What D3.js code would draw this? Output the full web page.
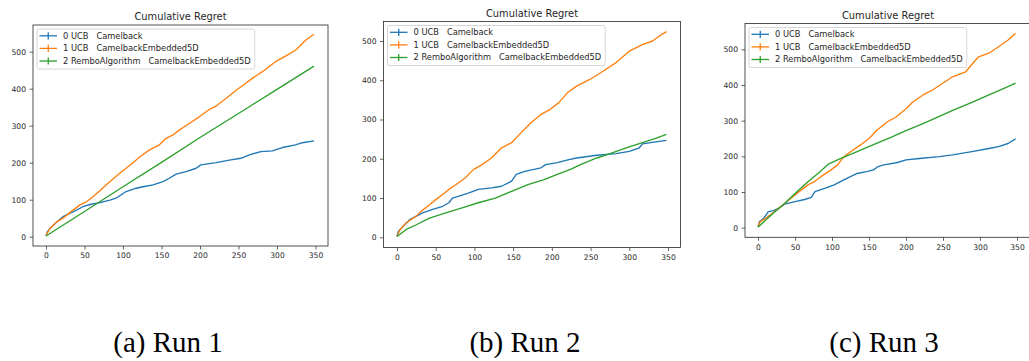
<!DOCTYPE html>
<html>
<head>
<meta charset="utf-8">
<script src="https://cdn.jsdelivr.net/npm/d3@7"></script>
<style>
  body { margin: 0; background: #fff; }
  svg { display: block; }
  .tick text { font-family: "DejaVu Sans", sans-serif; fill: #262626; }
</style>
</head>
<body>
<div id="wrapper"></div>
<script>
// ---- data ----
const seriesNames = [
  '0 UCB   Camelback',
  '1 UCB   CamelbackEmbedded5D',
  '2 RemboAlgorithm   CamelbackEmbedded5D',
];
const seriesColors = ['#1f77b4', '#ff7f0e', '#2ca02c'];
const chartTitle = 'Cumulative Regret';
const captions = ['(a) Run 1', '(b) Run 2', '(c) Run 3'];
const xTicks = [0, 50, 100, 150, 200, 250, 300, 350];
const yTicks = [0, 100, 200, 300, 400, 500];

// run 1
const run1Camelback = [[0,2],[1.7,13],[5,22],[14,40],[22,54],[35,67],[48,81],[57,87],[70,92],[83,99],[91,104],[104,122],[117,131],[126,135],[139,140],[152,149],[160,158],[169,169],[182,176],[195,185],[201,194],[221,200],[238,207],[253,212],[264,221],[279,230],[294,232],[307,241],[324,248],[333,254],[348,259]];
const run1Embedded = [[0,4],[5,22],[14,40],[22,50],[31,65],[44,86],[53,95],[61,108],[70,124],[78,140],[93,167],[104,185],[113,200],[122,216],[134,234],[147,248],[156,266],[165,275],[173,288],[186,306],[199,324],[212,344],[221,353],[234,374],[247,396],[259,414],[268,428],[281,446],[298,473],[311,488],[324,504],[331,518],[337,531],[348,547]];
const run1Rembo = [[0,2],[50,68],[100,135],[150,201],[200,268],[250,333],[300,398],[348,461]];

// run 2
const run2Camelback = [[0,2],[1.7,15],[8,28],[16.5,45],[25,54],[33,62],[46,71],[59,79],[67,88],[71.5,100],[80,105],[93,113],[105,122],[122,126],[135,130],[148,143],[154,160],[165,168],[186,177],[192,185],[207,190],[222,198],[232,202],[258,209],[283,213],[300,219],[313,228],[317,238],[334,243],[348,247]];
const run2Embedded = [[0,2],[4,20],[12,37],[25,54],[31,66],[42,83],[50,96],[59,109],[67,122],[76,134],[88,151],[99,173],[110,185],[122,202],[135,228],[148,241],[160,266],[173,292],[186,313],[198,326],[209,343],[220,368],[232,385],[249,402],[266,423],[283,445],[300,474],[317,491],[330,500],[342,517],[348,524]];
const run2Rembo = [[0,2],[12,20],[25,32],[42,49],[63,62],[84,75],[105,88],[127,100],[148,117],[169,134],[190,147],[207,160],[224,173],[237,185],[258,202],[275,213],[296,228],[317,241],[334,252],[348,262]];

// run 3
const run3Camelback = [[0,3],[2,17],[7.5,26],[14,45],[21,48],[27.5,54],[36,66],[50,73],[63,79],[72,85],[77,101],[90,110],[103,120],[116,134],[125,143],[134,152],[147,157],[156,162],[162,171],[170,176],[187,182],[200,190],[218,194],[245,199],[263,204],[289,213],[312,222],[325,227],[338,236],[348,249]];
const run3Embedded = [[0,3],[3,17],[10,26],[19,40],[27.5,54],[36,68],[50,92],[58.6,106],[67.5,120],[76,129],[85,143],[98.6,162],[107.5,176],[116,199],[125,213],[138.5,232],[150,250],[161,274],[175,297],[187,311],[200.7,335],[209.6,353],[223,372],[236,386],[249.6,405],[263,423],[280.6,437],[298,479],[312,489],[325,507],[338,526],[348,545]];
const run3Rembo = [[0,1],[10,21],[23,45],[36,68],[50,96],[67.5,129],[81,152],[95,178],[112,194],[134,213],[156,233],[178,252],[200,272],[223,292],[245,312],[267,332],[290,352],[312,372],[334,392],[348,405]];

const runs = [
  [run1Camelback, run1Embedded, run1Rembo],
  [run2Camelback, run2Embedded, run2Rembo],
  [run3Camelback, run3Embedded, run3Rembo],
];

// ---- layout (pixel positions of ticks and frames per panel) ----
const panels = [
  { x0: 46, x350: 315.5, y0: 236.7, y500: 51.7, left: 33, right: 328, top: 25, bottom: 246 },
  { x0: 397, x350: 668, y0: 237.3, y500: 41, left: 383.5, right: 680.5, top: 21.5, bottom: 247.5 },
  { x0: 758, x350: 1017, y0: 227.7, y500: 49.3, left: 745, right: 1029.5, top: 23.5, bottom: 237.3 },
];
const captionX = [168, 525, 884];
const captionY = 352;

const width = 1029;
const height = 361;

const svg = d3
  .select('#wrapper')
  .append('svg')
  .attr('width', width)
  .attr('height', height);

panels.forEach((p, i) => {
  const xScale = d3.scaleLinear().domain([0, 350]).range([p.x0, p.x350]);
  const yScale = d3.scaleLinear().domain([0, 500]).range([p.y0, p.y500]);

  const g = svg.append('g');

  const clipId = `clip-${i}`;
  g.append('clipPath')
    .attr('id', clipId)
    .append('rect')
    .attr('x', p.left)
    .attr('y', p.top)
    .attr('width', p.right - p.left)
    .attr('height', p.bottom - p.top);

  // lines
  const lineGenerator = d3
    .line()
    .x((d) => xScale(d[0]))
    .y((d) => yScale(d[1]));

  const plot = g.append('g').attr('clip-path', `url(#${clipId})`);
  runs[i].forEach((series, s) => {
    plot
      .append('path')
      .attr('d', lineGenerator(series))
      .attr('fill', 'none')
      .attr('stroke', seriesColors[s])
      .attr('stroke-width', 1.35)
      .attr('stroke-linejoin', 'round');
  });

  // axes
  const xAxis = g
    .append('g')
    .attr('transform', `translate(0, ${p.bottom})`)
    .call(d3.axisBottom(xScale).tickValues(xTicks).tickSize(3.5).tickPadding(3.5));
  const yAxis = g
    .append('g')
    .attr('transform', `translate(${p.left}, 0)`)
    .call(d3.axisLeft(yScale).tickValues(yTicks).tickSize(3.5).tickPadding(3.5));
  [xAxis, yAxis].forEach((ax) => {
    ax.select('.domain').remove();
    ax.selectAll('.tick line').attr('stroke', '#262626').attr('stroke-width', 0.7);
    ax.selectAll('.tick text').style('font-size', '7.6px');
  });

  // frame
  g.append('rect')
    .attr('x', p.left)
    .attr('y', p.top)
    .attr('width', p.right - p.left)
    .attr('height', p.bottom - p.top)
    .attr('fill', 'none')
    .attr('stroke', '#262626')
    .attr('stroke-width', 0.8);

  // title
  g.append('text')
    .attr('x', (p.left + Math.min(p.right, width)) / 2 + (i === 2 ? 1 : 0))
    .attr('y', p.top - 5)
    .attr('text-anchor', 'middle')
    .style('font-family', 'DejaVu Sans, sans-serif')
    .style('font-size', '9.9px')
    .attr('fill', '#262626')
    .text(chartTitle);

  // legend
  const lx = p.left + 4;
  const ly = p.top + 4;
  const legend = g.append('g');
  const box = legend
    .append('rect')
    .attr('x', lx)
    .attr('y', ly)
    .attr('rx', 2)
    .attr('fill', 'rgba(255,255,255,0.8)')
    .attr('stroke', '#cccccc')
    .attr('stroke-width', 0.8);
  let maxW = 0;
  seriesNames.forEach((name, s) => {
    const cy = ly + 6.8 + s * 12.6;
    legend.append('line')
      .attr('x1', lx + 2.5).attr('x2', lx + 20)
      .attr('y1', cy).attr('y2', cy)
      .attr('stroke', seriesColors[s]).attr('stroke-width', 1.3);
    legend.append('line')
      .attr('x1', lx + 11.25).attr('x2', lx + 11.25)
      .attr('y1', cy - 3.6).attr('y2', cy + 3.6)
      .attr('stroke', seriesColors[s]).attr('stroke-width', 1.3);
    const t = legend.append('text')
      .attr('x', lx + 26)
      .attr('y', cy)
      .attr('dy', '0.35em')
      .style('font-family', 'DejaVu Sans, sans-serif')
      .style('font-size', '8.3px')
      .style('white-space', 'pre')
      .attr('fill', '#262626')
      .text(name);
    maxW = Math.max(maxW, t.node().getComputedTextLength());
  });
  box.attr('width', 26 + maxW + 4).attr('height', 40);

  // caption
  svg.append('text')
    .attr('x', captionX[i])
    .attr('y', captionY)
    .attr('text-anchor', 'middle')
    .style('font-family', '"Liberation Serif", "Times New Roman", serif')
    .style('font-size', '29px')
    .attr('fill', '#000')
    .text(captions[i]);
});
</script>
</body>
</html>
